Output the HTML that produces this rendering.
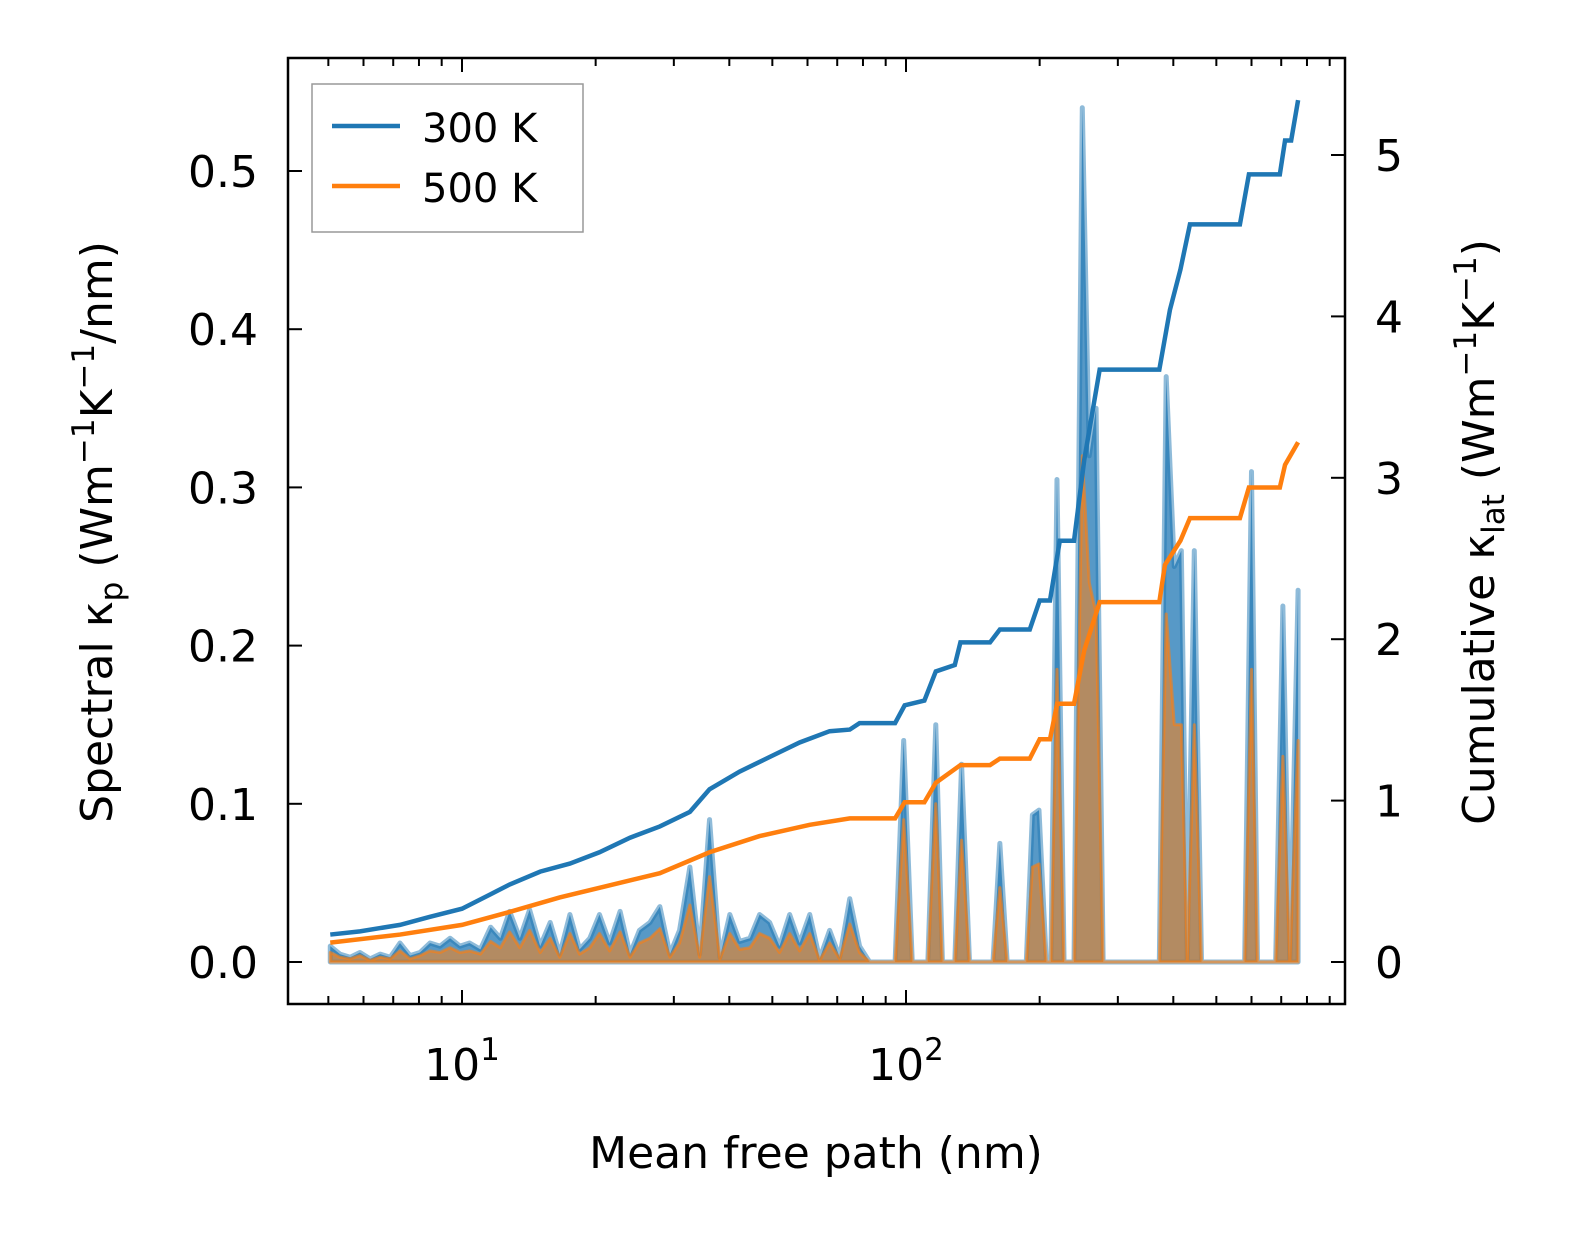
<!DOCTYPE html>
<html><head><meta charset="utf-8"><style>
html,body{margin:0;padding:0;background:#fff;width:1586px;height:1254px;overflow:hidden}
svg{display:block;font-family:"DejaVu Sans","Liberation Sans",sans-serif}
</style></head><body>
<svg id="chart" width="1586" height="1254" viewBox="0 0 1586 1254">
<rect width="1586" height="1254" fill="#fff"/>
<g id="plot"></g>
<g font-family="DejaVu Sans, Liberation Sans, sans-serif" font-size="44">
<text x="816" y="1168" text-anchor="middle">Mean free path (nm)</text>
<text transform="translate(112,532) rotate(-90)" text-anchor="middle">Spectral κ<tspan dy="10" font-size="31">p</tspan><tspan dy="-10"> (Wm</tspan><tspan dy="-18" font-size="31">−1</tspan><tspan dy="18">K</tspan><tspan dy="-18" font-size="31">−1</tspan><tspan dy="18">/nm)</tspan></text>
<text transform="translate(1494,532) rotate(-90)" text-anchor="middle">Cumulative κ<tspan dy="10" font-size="31">lat</tspan><tspan dy="-10"> (Wm</tspan><tspan dy="-18" font-size="31">−1</tspan><tspan dy="18">K</tspan><tspan dy="-18" font-size="31">−1</tspan><tspan dy="18">)</tspan></text>
<g>
<rect x="312" y="84" width="271" height="148" fill="#fff" fill-opacity="0.8" stroke="#999" stroke-width="1.5"/>
<line x1="332" x2="400" y1="126" y2="126" stroke="#1f77b4" stroke-width="4.5"/>
<text x="422" y="142" font-size="40">300 K</text>
<line x1="332" x2="400" y1="186" y2="186" stroke="#ff7f0e" stroke-width="4.5"/>
<text x="422" y="202" font-size="40">500 K</text>
</g>
</g>
</svg>
<script>
// Spectral kappa (W m^-1 K^-1 / nm) vs mean free path (nm)
const specMfp = [5.05,5.31,5.60,5.89,6.21,6.54,6.89,7.25,7.64,8.04,8.47,8.92,9.40,9.90,10.4,11.0,11.6,12.2,12.8,13.5,14.2,15.0,15.8,16.6,17.5,18.4,19.4,20.4,21.5,22.7,23.9,25.1,26.5,27.9,29.4,30.9,32.6,34.3,36.1,38.1,40.1,42.2,44.5,46.8,49.3,51.9,54.7,57.6,60.7,63.9,67.3,70.9,74.7,78.6,82.8,94.5,98.8,103.3,112,116.7,120.8,128.8,133.4,139,157,162.7,169,186.6,192.6,199.3,207,212,218.8,227,239,249.5,258.6,268,278,372,385.5,402,417,430,446,463,579,600,619,680,706,732,764];
const spec300 = [0.010,0.005,0.003,0.006,0.002,0.005,0.003,0.012,0.004,0.006,0.012,0.010,0.015,0.010,0.012,0.008,0.022,0.015,0.032,0.015,0.033,0.010,0.025,0.005,0.030,0.008,0.015,0.030,0.012,0.032,0.005,0.020,0.025,0.035,0.005,0.020,0.060,0.005,0.090,0.003,0.030,0.013,0.015,0.030,0.025,0.010,0.030,0.012,0.030,0.002,0.020,0.003,0.040,0.010,0.000,0.000,0.140,0.000,0.000,0.150,0.000,0.000,0.125,0.000,0.000,0.075,0.000,0.000,0.093,0.096,0.000,0.000,0.305,0.000,0.000,0.540,0.320,0.350,0.000,0.000,0.370,0.250,0.260,0.000,0.260,0.000,0.000,0.310,0.000,0.000,0.225,0.000,0.235];
const spec500 = [0.006,0.003,0.002,0.004,0.001,0.003,0.002,0.007,0.002,0.004,0.007,0.006,0.009,0.006,0.007,0.005,0.013,0.009,0.019,0.009,0.020,0.006,0.015,0.003,0.018,0.005,0.009,0.018,0.007,0.019,0.003,0.012,0.015,0.021,0.003,0.012,0.036,0.003,0.054,0.002,0.018,0.008,0.009,0.018,0.015,0.006,0.018,0.007,0.018,0.001,0.012,0.002,0.024,0.006,0.000,0.000,0.090,0.000,0.000,0.100,0.000,0.000,0.077,0.000,0.000,0.047,0.000,0.000,0.060,0.062,0.000,0.000,0.185,0.000,0.000,0.320,0.240,0.220,0.000,0.000,0.220,0.150,0.150,0.000,0.150,0.000,0.000,0.185,0.000,0.000,0.130,0.000,0.140];
// Cumulative kappa_lat (W m^-1 K^-1)
const cum300Mfp = [5.05,5.89,7.25,8.47,10,11.6,12.8,15.0,17.5,20.4,23.9,27.9,32.6,36.1,42.2,49.3,57.6,67.3,74.7,78.6,94.5,99.3,110,116.7,128.8,132.6,154.6,162.7,190,200,211,222,239,252,273,372,393,415,436,565,592,695,714,737,764];
const cum300 = [0.17,0.19,0.23,0.28,0.33,0.42,0.48,0.56,0.61,0.68,0.77,0.84,0.93,1.07,1.18,1.27,1.36,1.43,1.44,1.48,1.48,1.59,1.62,1.80,1.84,1.98,1.98,2.06,2.06,2.24,2.24,2.61,2.61,3.11,3.67,3.67,4.04,4.29,4.57,4.57,4.88,4.88,5.09,5.09,5.34];
const cum500Mfp = [5.05,7.25,10,12.8,16.6,20.4,27.9,36.1,46.8,60.7,74.7,94.5,99.3,110,116.7,132.6,154.6,162.7,190,200,211,219,239,252,273,372,383,415,436,565,592,695,714,764];
const cum500 = [0.12,0.17,0.23,0.31,0.40,0.46,0.55,0.68,0.78,0.85,0.89,0.89,0.99,0.99,1.11,1.22,1.22,1.26,1.26,1.38,1.38,1.60,1.60,1.93,2.23,2.23,2.46,2.61,2.75,2.75,2.94,2.94,3.08,3.22];
const leftTicks = [0.0,0.1,0.2,0.3,0.4,0.5];
const leftTickLabels = ["0.0","0.1","0.2","0.3","0.4","0.5"];
const rightTicks = [0,1,2,3,4,5];
const rightTickLabels = ["0","1","2","3","4","5"];
const xMajor = [10,100];

const L=288,R=1345,T=58,B=1004;
const X = v => 462 + (Math.log10(v)-1)*444;
const YL = v => 962 - v*1582;
const YR = v => 962 - v*161.4;
const NS="http://www.w3.org/2000/svg";
const g=document.getElementById('plot');
function mk(tag,attrs,parent){const e=document.createElementNS(NS,tag);for(const k in attrs)e.setAttribute(k,attrs[k]);(parent||g).appendChild(e);return e;}

function areaPath(xs,ys){let d=`M${X(xs[0])},${YL(0)}`;xs.forEach((m,i)=>d+=`L${X(m)},${YL(ys[i])}`);d+=`L${X(xs[xs.length-1])},${YL(0)}Z`;return d;}
function linePath(xs,ys,f){return xs.map((m,i)=>(i?'L':'M')+X(m)+','+f(ys[i])).join('');}
const f3=mk('path',{d:areaPath(specMfp,spec300),fill:'#1f77b4','fill-opacity':0.75,stroke:'#1f77b4','stroke-opacity':0.5,'stroke-width':5,'stroke-linejoin':'round'});


const f5=mk('path',{d:areaPath(specMfp,spec500),fill:'#ff7f0e','fill-opacity':0.55,stroke:'#ff7f0e','stroke-opacity':0.6,'stroke-width':3,'stroke-linejoin':'round'});


const c3=mk('path',{d:linePath(cum300Mfp,cum300,YR),fill:'none',stroke:'#1f77b4','stroke-width':4.5});


const c5=mk('path',{d:linePath(cum500Mfp,cum500,YR),fill:'none',stroke:'#ff7f0e','stroke-width':4.5});



const fr=mk('rect',{x:L,y:T,width:R-L,height:B-T,fill:'none',stroke:'#000','stroke-width':2.5});



for(let dec=1;dec<=1000;dec*=10){for(let k=1;k<10;k++){const v=dec*k;const x=X(v);if(x<L||x>R)continue;const len=k===1?14:8;
 mk('line',{x1:x,x2:x,y1:B,y2:B-len,stroke:'#000','stroke-width':2});mk('line',{x1:x,x2:x,y1:T,y2:T+len,stroke:'#000','stroke-width':2});}}
xMajor.forEach((v,i)=>{const t=mk('text',{x:X(v),y:1080,'text-anchor':'middle','font-size':44});
 
 
 t.innerHTML=`10<tspan dy="-20" font-size="31">${i+1}</tspan>`;});
leftTicks.forEach((v,i)=>{const y=YL(v);mk('line',{x1:L,x2:L+14,y1:y,y2:y,stroke:'#000','stroke-width':2});
 const t=mk('text',{x:258,y:y+16,'text-anchor':'end','font-size':44});t.textContent=leftTickLabels[i];
 
 });
rightTicks.forEach((v,i)=>{const y=YR(v);mk('line',{x1:R,x2:R-14,y1:y,y2:y,stroke:'#000','stroke-width':2});
 const t=mk('text',{x:1375,y:y+16,'font-size':44});t.textContent=rightTickLabels[i];
 
 });
</script>
</body></html>
